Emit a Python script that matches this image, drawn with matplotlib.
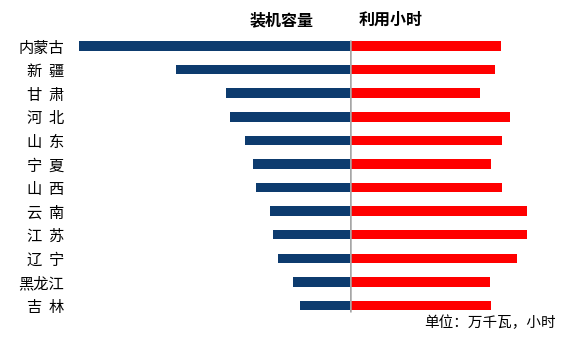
import matplotlib
matplotlib.use('Agg')
import matplotlib.pyplot as plt

plt.rcParams['font.family'] = ['Noto Sans CJK SC', 'DejaVu Sans']

# provinces, top to bottom
provinces = ['内蒙古', '新  疆', '甘  肃', '河  北', '山  东', '宁  夏',
             '山  西', '云  南', '江  苏', '辽  宁', '黑龙江', '吉  林']
# installed capacity (万千瓦)
capacity = [2570, 1650, 1180, 1140, 1000, 920, 890, 760, 730, 685, 540, 475]
# utilisation hours (小时)
hours = [1960, 1890, 1690, 2080, 1970, 1830, 1970, 2300, 2300, 2170, 1815, 1830]

blue = '#0D3B6E'
red = '#FF0000'

W, H = 568, 338
fig = plt.figure(figsize=(W / 100, H / 100), dpi=100)

# axes placed in pixel terms: centre line at x=350
top_px, bot_px = 36.6, 314.9
y0 = (H - bot_px) / H
hgt = (bot_px - top_px) / H
axl = fig.add_axes([75 / W, y0, (350 - 75) / W, hgt])
axr = fig.add_axes([350 / W, y0, (545 - 350) / W, hgt])

ypos = list(range(len(provinces)))
axl.barh(ypos, capacity, height=0.4, color=blue)
axr.barh(ypos, hours, height=0.4, color=red)

axl.set_xlim((350 - 75) * 9.5, 0)
axr.set_xlim(0, (545 - 350) * 13)
for ax in (axl, axr):
    ax.set_ylim(11.4, -0.4)
    ax.set_xticks([])
    for s in ax.spines.values():
        s.set_visible(False)
    ax.patch.set_alpha(0)

axl.set_yticks(ypos)
axl.set_yticklabels(provinces, fontsize=11)
axl.tick_params(axis='y', length=0, pad=8)
axr.set_yticks([])

# grey centre line
axr.vlines(0, -0.27, 11.27, color='#A6A6A6', lw=1.8, zorder=5)

fig.text(282 / W, 1 - 20 / H, '装机容量', fontsize=11.5, fontweight='bold',
         ha='center', va='center')
fig.text(391 / W, 1 - 20 / H, '利用小时', fontsize=11.5, fontweight='bold',
         ha='center', va='center')
fig.text(556 / W, 1 - 323 / H, '单位：万千瓦，小时', fontsize=10.5,
         ha='right', va='center')

fig.savefig('out.png', dpi=100)
